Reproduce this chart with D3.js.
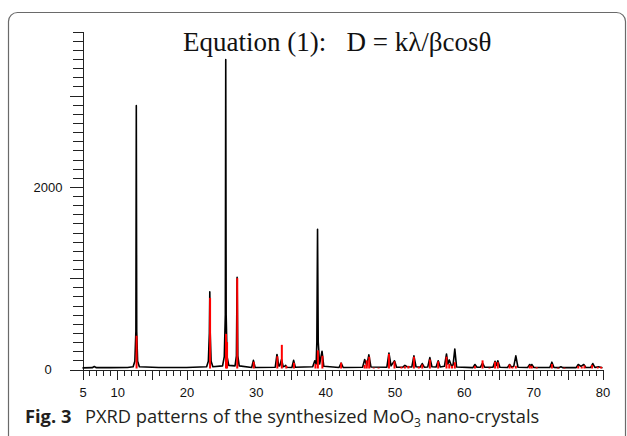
<!DOCTYPE html>
<html>
<head>
<meta charset="utf-8">
<script src="https://cdn.jsdelivr.net/npm/d3@7"></script>
<style>
  body { margin: 0; background: #fff; }
  svg { display: block; }
  .axis path, .axis line { stroke: #222; shape-rendering: crispEdges; }
  .axis text { font-family: "Liberation Sans", Arial, sans-serif; font-size: 13px; fill: #111; }
</style>
</head>
<body>
<svg id="chart"></svg>
<script>
const patternTheta = [
  5.0, 6.4, 6.7, 7.0, 9.0, 11.5, 12.3, 12.55, 12.7, 12.76, 12.82, 12.95, 13.2, 16.0, 20.0,
  22.9, 23.15, 23.3, 23.36, 23.42, 23.55, 23.8, 25.2, 25.45, 25.6, 25.66, 25.72, 25.85, 26.1,
  27.0, 27.2, 27.3, 27.4, 27.6, 29.4, 29.65, 29.9, 32.8, 33.05, 33.3, 33.45, 33.7, 33.95, 34.15, 34.3, 34.45,
  35.2, 35.45, 35.7, 38.2, 38.5, 38.7, 38.8, 38.9, 39.0, 39.2, 39.55, 39.8, 42.0, 42.3, 42.6,
  45.4, 45.7, 46.0, 46.3, 46.6, 48.9, 49.2, 49.5, 50.0, 50.3, 51.2, 51.5, 51.8, 52.5, 52.8, 53.1,
  53.7, 54.0, 54.3, 54.8, 55.1, 55.4, 56.0, 56.3, 56.6, 57.2, 57.5, 57.7, 57.9, 58.2, 58.45, 58.7, 58.95,
  61.3, 61.6, 61.9, 62.4, 62.7, 63.0, 64.2, 64.5, 64.7, 64.9, 65.2, 66.3, 66.6, 66.9, 67.2, 67.5, 67.8,
  69.2, 69.5, 69.65, 69.8, 70.1, 72.4, 72.7, 73.0, 73.7, 74.0, 74.3, 76.2, 76.5, 76.9, 77.3, 77.6,
  78.3, 78.6, 78.9, 79.4, 80.0
];
const patternCounts = [
  18, 20, 32, 20, 20, 22, 30, 90, 420, 2890, 420, 90, 30, 22, 22,
  30, 90, 400, 850, 400, 90, 30, 40, 140, 600, 3395, 600, 140, 45,
  40, 150, 1010, 150, 40, 22, 100, 22, 25, 165, 40, 40, 110, 30, 35, 45, 25,
  22, 100, 25, 30, 95, 60, 300, 1535, 300, 60, 200, 35, 22, 70, 22,
  25, 110, 40, 160, 28, 25, 180, 40, 95, 25, 25, 45, 30, 28, 150, 30,
  25, 65, 25, 28, 130, 30, 28, 95, 28, 35, 170, 60, 105, 40, 50, 225, 28,
  20, 55, 25, 25, 70, 25, 25, 90, 45, 95, 25, 22, 55, 25, 35, 150, 25,
  22, 55, 35, 55, 22, 22, 80, 22, 20, 30, 20, 20, 55, 35, 55, 22,
  22, 65, 22, 30, 20
];

// Reference stick pattern (red)
const refTheta = [
  12.8, 23.4, 25.7, 25.85, 27.32, 29.7, 33.1, 33.75, 34.4, 35.5, 38.6, 38.95, 39.6, 42.3,
  45.7, 46.0, 46.35, 47.0, 47.7, 49.2, 50.0, 51.0, 51.5, 52.0, 52.8, 53.5, 54.0, 55.1, 56.3,
  57.5, 57.9, 58.3, 58.7, 61.6, 62.7, 63.7, 64.5, 64.9, 66.6, 67.0, 67.5, 69.5, 69.8, 70.5,
  72.7, 73.6, 74.5, 76.5, 77.0, 77.4, 78.5, 79.3, 79.8
];
const refCounts = [
  370, 785, 390, 300, 1000, 85, 145, 270, 40, 75, 60, 210, 150, 75,
  50, 100, 140, 20, 20, 170, 90, 30, 35, 40, 140, 30, 55, 110, 90,
  140, 60, 40, 80, 40, 100, 20, 85, 80, 55, 30, 40, 45, 40, 25,
  60, 20, 20, 40, 30, 45, 50, 30, 30
];

const xMinorTicks = d3.range(5, 81, 1);
const xMajorTicks = d3.range(5, 81, 5);
const xLabels = [5, 10, 20, 30, 40, 50, 60, 70, 80];
const yMinorTicks = d3.range(0, 3701, 100);
const yMajorTicks = [0, 1000, 2000, 3000];
const yLabels = [0, 2000];

const W = 627, H = 436;
const svg = d3.select('#chart').attr('width', W).attr('height', H);

// frame around the figure
svg.append('rect')
  .attr('x', 8.5).attr('y', 12.5)
  .attr('width', 617).attr('height', 480)
  .attr('rx', 9)
  .attr('fill', 'none')
  .attr('stroke', '#6a6a6a')
  .attr('stroke-width', 1.2);

const x = d3.scaleLinear().domain([5, 80]).range([82.5, 602.5]);
const y = d3.scaleLinear().domain([0, 3700]).range([369.5, 31.7]);

// y axis: minor then major
svg.append('g').attr('class', 'axis')
  .attr('transform', `translate(${x(5)},0)`)
  .call(d3.axisLeft(y).tickValues(yMinorTicks).tickSize(10).tickSizeOuter(0).tickFormat(''));

const yMaj = svg.append('g').attr('class', 'axis')
  .attr('transform', `translate(${x(5)},0)`)
  .call(d3.axisLeft(y).tickValues(yMajorTicks).tickSize(13).tickSizeOuter(0)
    .tickFormat(d => yLabels.includes(d) ? d : ''));
yMaj.select('.domain').remove();
yMaj.selectAll('text').attr('text-anchor', 'middle').attr('x', 48 - x(5));

// x axis
svg.append('g').attr('class', 'axis')
  .attr('transform', `translate(0,${y(0)})`)
  .call(d3.axisBottom(x).tickValues(xMinorTicks).tickSize(6).tickSizeOuter(0).tickFormat(''));

const xMaj = svg.append('g').attr('class', 'axis')
  .attr('transform', `translate(0,${y(0)})`)
  .call(d3.axisBottom(x).tickValues(xMajorTicks).tickSize(10).tickSizeOuter(0).tickPadding(8)
    .tickFormat(d => xLabels.includes(d) ? d : ''));
xMaj.select('.domain').remove();

// measured pattern
const pattern = patternTheta.map((t, i) => [t, patternCounts[i]]);
svg.append('path')
  .datum(pattern)
  .attr('fill', 'none')
  .attr('stroke', '#000')
  .attr('stroke-width', 1.6)
  .attr('stroke-linejoin', 'round')
  .attr('d', d3.line().x(d => x(d[0])).y(d => y(d[1])));

// reference sticks
svg.append('g')
  .selectAll('line')
  .data(refTheta.map((t, i) => [t, refCounts[i]]))
  .join('line')
    .attr('x1', d => x(d[0]))
    .attr('x2', d => x(d[0]))
    .attr('y1', y(0) - 1)
    .attr('y2', d => y(d[1]))
    .attr('stroke', '#ff0000')
    .attr('stroke-width', 2);

// title
svg.append('text')
  .attr('x', 183).attr('y', 51)
  .attr('xml:space', 'preserve')
  .style('white-space', 'pre')
  .attr('font-family', '"Liberation Serif", "Times New Roman", serif')
  .attr('font-size', 27)
  .attr('fill', '#111')
  .text('Equation (1):   D = kλ/βcosθ');

// caption
const cap = svg.append('text')
  .attr('x', 25).attr('y', 423)
  .attr('font-family', '"Open Sans", "Noto Sans", sans-serif')
  .attr('font-size', 18.3)
  .attr('fill', '#231f20');
cap.append('tspan').attr('font-weight', 'bold').text('Fig. 3');
cap.append('tspan').attr('x', 85).text('PXRD patterns of the synthesized MoO');
cap.append('tspan').attr('font-size', 12).attr('dy', 4).text('3');
cap.append('tspan').attr('dy', -4).text(' nano-crystals');
</script>
</body>
</html>
